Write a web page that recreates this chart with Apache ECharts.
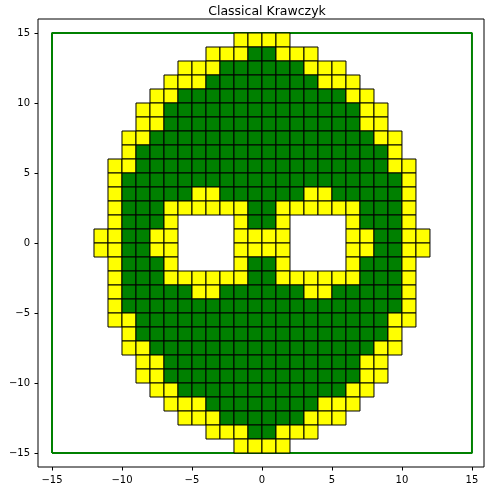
<!DOCTYPE html>
<html>
<head>
<meta charset="utf-8">
<script src="https://cdn.jsdelivr.net/npm/echarts@6/dist/echarts.min.js"></script>
<style>html,body{margin:0;padding:0;background:#fff}#c{width:485px;height:494px}</style>
</head>
<body>
<div id="c"></div>
<script>
// Cell grid: each char is one unit cell, row k is y = rowTop - k,
// column c is x = colStart + c. 'Y' yellow, 'G' green, '.' empty.
const colStart = -12;
const rowTop = 14;
const rows = [
  "..........YYYY..........",
  "........YYYGGYYY........",
  "......YYYGGGGGGYYY......",
  ".....YYYGGGGGGGGYYY.....",
  "....YYGGGGGGGGGGGGYY....",
  "...YYGGGGGGGGGGGGGGYY...",
  "...YYGGGGGGGGGGGGGGYY...",
  "..YYGGGGGGGGGGGGGGGGYY..",
  "..YGGGGGGGGGGGGGGGGGGY..",
  ".YYGGGGGGGGGGGGGGGGGGYY.",
  ".YGGGGGGGGGGGGGGGGGGGGY.",
  ".YGGGGGYYGGGGGGYYGGGGGY.",
  ".YGGGYYYYYYGGYYYYYYGGGY.",
  ".YGGGY....YGGY....YGGGY.",
  "YYGGYY....YYYY....YYGGYY",
  "YYGGYY....YYYY....YYGGYY",
  ".YGGGY....YGGY....YGGGY.",
  ".YGGGYYYYYYGGYYYYYYGGGY.",
  ".YGGGGGYYGGGGGGYYGGGGGY.",
  ".YGGGGGGGGGGGGGGGGGGGGY.",
  ".YYGGGGGGGGGGGGGGGGGGYY.",
  "..YGGGGGGGGGGGGGGGGGGY..",
  "..YYGGGGGGGGGGGGGGGGYY..",
  "...YYGGGGGGGGGGGGGGYY...",
  "...YYGGGGGGGGGGGGGGYY...",
  "....YYGGGGGGGGGGGGYY....",
  ".....YYYGGGGGGGGYYY.....",
  "......YYYGGGGGGYYY......",
  "........YYYGGYYY........",
  "..........YYYY.........."
];
// Outer box corners
const boxX = [-15, 15, 15, -15, -15];
const boxY = [-15, -15, 15, 15, -15];
const tickValues = [-15, -10, -5, 0, 5, 10, 15];
const titleText = "Classical Krawczyk";

const cells = [];
rows.forEach((r, k) => {
  const y = rowTop - k;
  for (let c = 0; c < r.length; c++) {
    const ch = r[c];
    if (ch !== '.') cells.push([colStart + c, y, ch]);
  }
});
const colorMap = { Y: '#ffff00', G: '#008000' };
const boxData = boxX.map((x, i) => [x, boxY[i]]);

const fmt = v => String(v).replace('-', '\u2212');
const axisCommon = {
  type: 'value',
  splitLine: { show: false },
  axisLine: { show: false, onZero: false },
  axisTick: { show: true, length: 3.5, inside: false, customValues: tickValues, lineStyle: { color: '#000', width: 1 } },
  axisLabel: { customValues: tickValues, formatter: fmt, color: '#000', fontSize: 10, fontFamily: 'DejaVu Sans', margin: 8 }
};

const chart = echarts.init(document.getElementById('c'), null, { renderer: 'canvas' });
chart.setOption({
  animation: false,
  backgroundColor: '#fff',
  title: {
    text: titleText, left: 262, top: 0, textAlign: 'center',
    textStyle: { fontSize: 12.5, fontWeight: 'normal', color: '#000', fontFamily: 'DejaVu Sans' }
  },
  grid: { left: 38, top: 19, width: 446, height: 448, show: true, borderColor: '#000', borderWidth: 1, backgroundColor: 'transparent' },
  xAxis: Object.assign({}, axisCommon, { min: -16, max: 15.86, position: 'bottom' }),
  yAxis: Object.assign({}, axisCommon, { min: -16, max: 16, position: 'left' }),
  series: [
    {
      type: 'line', data: boxData, symbol: 'none', z: 1,
      lineStyle: { color: '#008000', width: 2 }
    },
    {
      type: 'custom', z: 2, data: cells,
      encode: { x: 0, y: 1 },
      renderItem: (params, api) => {
        const x = api.value(0), y = api.value(1);
        const p0 = api.coord([x, y + 1]);
        const p1 = api.coord([x + 1, y]);
        return {
          type: 'rect',
          shape: { x: p0[0], y: p0[1], width: p1[0] - p0[0], height: p1[1] - p0[1] },
          style: { fill: colorMap[cells[params.dataIndex][2]], stroke: '#000', lineWidth: 1 }
        };
      }
    }
  ]
});
</script>
</body>
</html>
